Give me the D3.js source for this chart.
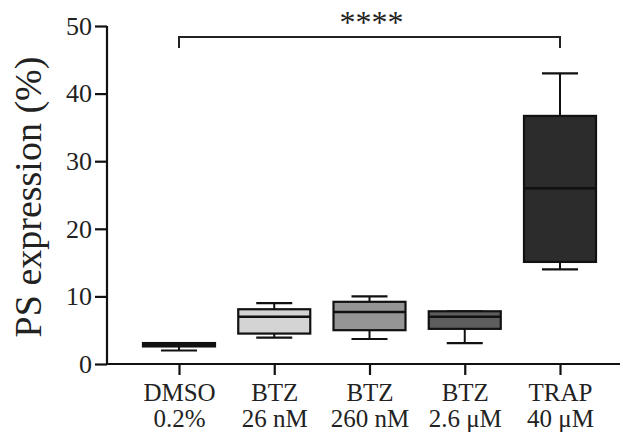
<!DOCTYPE html>
<html><head><meta charset="utf-8">
<script src="https://cdn.jsdelivr.net/npm/d3@7"></script>
<style>body{margin:0;background:#fff}svg{display:block}text{font-family:"Liberation Serif","Times New Roman",serif;fill:#222}</style>
</head><body>
<svg id="c" width="624" height="435"></svg>
<script>
const categories = ["DMSO|0.2%", "BTZ|26 nM", "BTZ|260 nM", "BTZ|2.6 μM", "TRAP|40 μM"];
const whiskerLow = [2.0, 3.9, 3.7, 3.1, 14.0];
const q1 = [2.6, 4.5, 5.0, 5.2, 15.1];
const median = [2.9, 7.0, 7.7, 7.0, 26.0];
const q3 = [3.1, 8.1, 9.2, 7.8, 36.7];
const whiskerHigh = [3.1, 9.0, 10.0, 7.8, 43.0];
const fills = ["#222", "#d4d4d4", "#959595", "#5e5e5e", "#2c2c2c"];
const yTicks = [0, 10, 20, 30, 40, 50];
const sigLabel = "****";

const svg = d3.select("#c");
const y = d3.scaleLinear().domain([0, 50]).range([364, 26]);
const x = d3.scalePoint().domain(categories).range([179, 560]);
const axisLeft = 107, axisRight = 620;

// y axis
const ya = svg.append("g").attr("transform", `translate(${axisLeft},0)`)
  .call(d3.axisLeft(y).tickValues(yTicks).tickSize(12).tickPadding(3));
ya.select(".domain").attr("stroke", "#111").attr("stroke-width", 2.2).attr("d", `M0,${y(50)}V${y(0)}`);
ya.selectAll(".tick line").attr("stroke", "#111").attr("stroke-width", 2.2);
ya.selectAll(".tick text").attr("font-size", 26).attr("font-family", "Liberation Serif").attr("fill", "#222");

// x axis
const xa = svg.append("g").attr("transform", `translate(0,${y(0)})`)
  .call(d3.axisBottom(x).tickSize(11).tickFormat(""));
xa.select(".domain").attr("stroke", "#111").attr("stroke-width", 2.2).attr("d", `M${axisLeft},0H${axisRight}`);
xa.selectAll(".tick line").attr("stroke", "#111").attr("stroke-width", 2.2);
xa.selectAll(".tick").each(function(d) {
  const parts = d.split("|");
  const t = d3.select(this).append("text").attr("text-anchor", "middle")
    .attr("font-size", 25).attr("font-family", "Liberation Serif").attr("fill", "#222");
  t.append("tspan").attr("x", 0).attr("y", 37).text(parts[0]);
  t.append("tspan").attr("x", 0).attr("y", 62.5).text(parts[1]);
});

// y label
svg.append("text").attr("transform", `translate(41,${(y(50)+y(0))/2 + 2}) rotate(-90)`)
  .attr("text-anchor", "middle").attr("font-size", 38).text("PS expression (%)");

// boxes
const boxW = 72, capW = 36;
const g = svg.append("g");
categories.forEach((c, i) => {
  const cx = x(c);
  const bg = g.append("g");
  bg.append("line").attr("x1", cx).attr("x2", cx).attr("y1", y(whiskerHigh[i])).attr("y2", y(q3[i])).attr("stroke", "#111").attr("stroke-width", 2);
  bg.append("line").attr("x1", cx).attr("x2", cx).attr("y1", y(q1[i])).attr("y2", y(whiskerLow[i])).attr("stroke", "#111").attr("stroke-width", 2);
  [whiskerHigh[i], whiskerLow[i]].forEach(v => {
    bg.append("line").attr("x1", cx - capW/2).attr("x2", cx + capW/2).attr("y1", y(v)).attr("y2", y(v)).attr("stroke", "#111").attr("stroke-width", 2.2);
  });
  bg.append("rect").attr("x", cx - boxW/2).attr("width", boxW)
    .attr("y", y(q3[i])).attr("height", y(q1[i]) - y(q3[i]))
    .attr("fill", fills[i]).attr("stroke", "#111").attr("stroke-width", 2.2);
  bg.append("line").attr("x1", cx - boxW/2).attr("x2", cx + boxW/2).attr("y1", y(median[i])).attr("y2", y(median[i])).attr("stroke", "#111").attr("stroke-width", 2.5);
});

// significance bracket
const x1 = x(categories[0]), x2 = x(categories[4]);
svg.append("path").attr("d", `M${x1},48V37H${x2}V48`).attr("fill", "none").attr("stroke", "#222").attr("stroke-width", 2);
svg.append("text").attr("x", (x1 + x2) / 2 + 2).attr("y", 33).attr("text-anchor", "middle").attr("font-size", 32).attr("fill", "#333").text(sigLabel);
</script>
</body></html>
